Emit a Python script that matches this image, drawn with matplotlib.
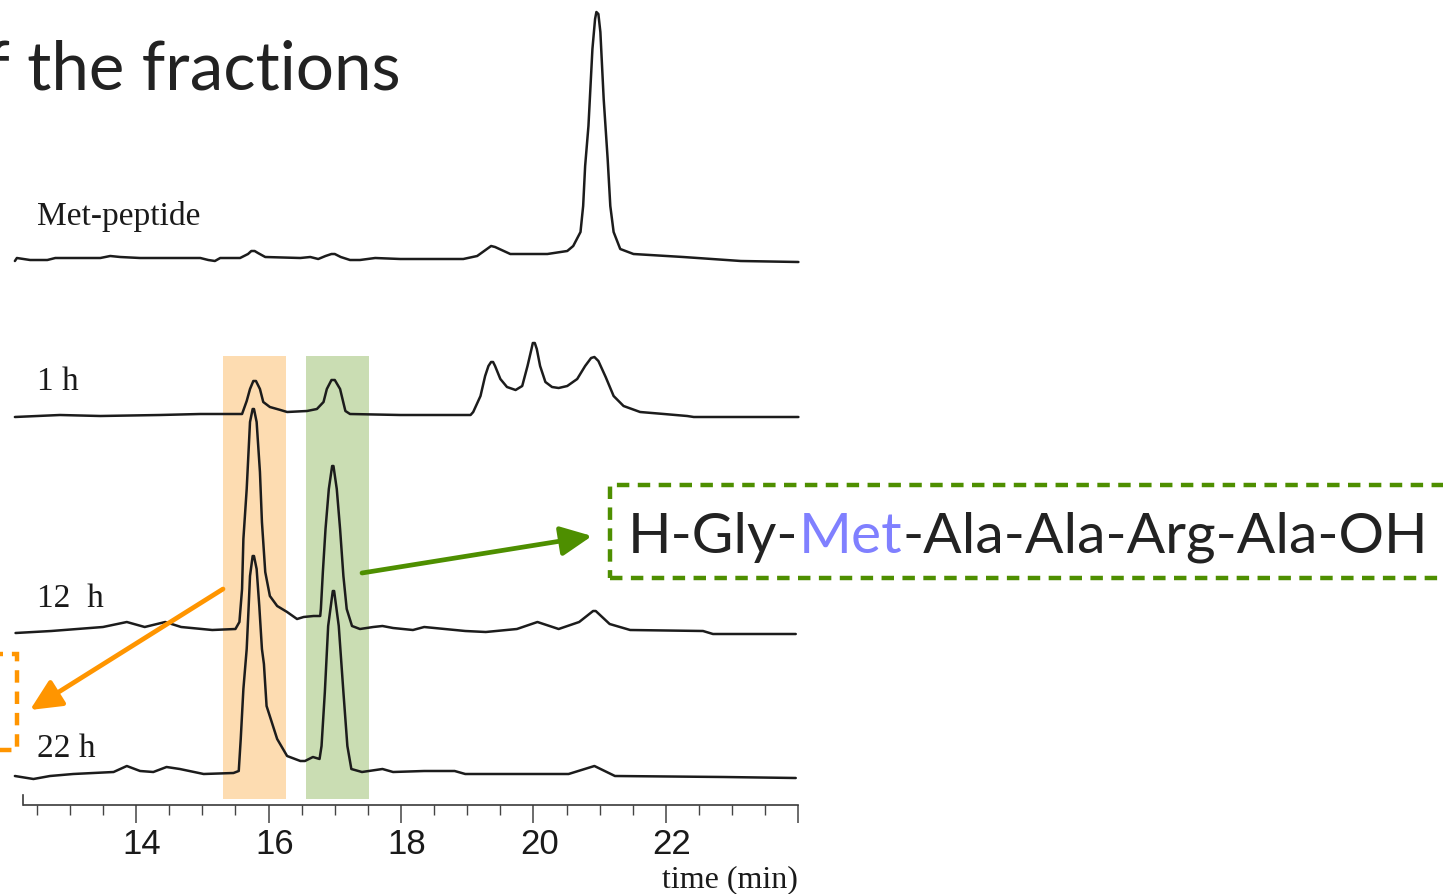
import matplotlib
matplotlib.use("Agg")
import matplotlib.pyplot as plt
import numpy as np
from matplotlib.patches import Rectangle, FancyArrowPatch
from matplotlib.transforms import ScaledTranslation

# ---------------- data ----------------
trace_labels = ["Met-peptide", "1 h", "12  h", "22 h"]
trace_offsets = [546, 390, 174, 30]          # vertical stacking of traces
label_dy = [35, 26, 25, 19]

met_t = [12.17, 12.20, 12.40, 12.66, 12.78, 13.46, 13.61, 13.76, 14.06, 14.97,
         15.09, 15.19, 15.27, 15.57, 15.69, 15.74, 15.79, 15.84, 15.95, 16.48, 16.63,
         16.75, 16.86, 16.95, 17.00, 17.09, 17.23, 17.38, 17.61, 17.99, 18.94, 19.15,
         19.36, 19.42, 19.65, 20.21, 20.51, 20.60, 20.71, 20.75, 20.78, 20.83, 20.89,
         20.93, 20.95, 20.98, 21.01, 21.06, 21.12, 21.16, 21.21, 21.31, 21.51, 22.26,
         23.13, 24.00]
met_y = [-2, 1, -1, -1, 1, 1, 3, 2, 1, 1,
         -1, -2, 1, 1, 5, 8, 8, 6, 2, 1, 2,
         0, 3, 5, 5, 2, -1, -1, 1, 0, 0, 3,
         13, 12, 5, 5, 8, 13, 27, 53, 93, 133, 210,
         240, 247, 245, 227, 160, 100, 53, 27, 10, 5, 2,
         -2, -3]

h1_t = [12.17, 12.85, 13.46, 14.36, 14.97, 15.60, 15.67, 15.72, 15.77, 15.81, 15.87,
        15.92, 16.02, 16.18, 16.28, 16.58, 16.73, 16.83, 16.88, 16.95, 17.00, 17.08,
        17.16, 17.23, 17.99, 19.05, 19.09, 19.20, 19.27, 19.32, 19.36, 19.39, 19.42,
        19.50, 19.60, 19.73, 19.83, 19.91, 19.97, 19.99, 20.02, 20.05, 20.10, 20.18,
        20.28, 20.38, 20.51, 20.66, 20.78, 20.87, 20.92, 20.98, 21.09, 21.21, 21.36,
        21.61, 21.97, 22.32, 22.42, 24.00]
h1_y = [-2, 0, -1, 0, 1, 1, 14, 26, 34, 34, 26,
        13, 8, 5, 3, 4, 6, 13, 26, 35, 35, 26,
        4, 1, 0, 0, 3, 19, 39, 49, 53, 53, 49,
        36, 28, 25, 29, 49, 66, 72, 72, 66, 49, 33,
        28, 27, 29, 36, 49, 57, 58, 54, 38, 19, 9,
        3, 1, -1, -2, -2]

h12_t = [12.18, 12.72, 13.50, 13.86, 14.13, 14.44, 14.68, 15.15, 15.50, 15.56,
         15.60, 15.62, 15.67, 15.72, 15.76, 15.78, 15.82, 15.87, 15.90, 15.95, 16.02,
         16.13, 16.28, 16.43, 16.53, 16.68, 16.78, 16.79, 16.82, 16.86, 16.91,
         16.96, 16.98, 17.03, 17.08, 17.13, 17.18, 17.26, 17.38, 17.58, 17.72, 17.88,
         18.18, 18.35, 18.97, 19.28, 19.75, 20.06, 20.38, 20.69, 20.90, 20.94, 21.15,
         21.46, 22.56, 22.71, 23.96]
h12_y = [-2, 0, 4, 9, 4, 9, 4, 1, 2, 9,
         42, 92, 142, 209, 222, 222, 209, 159, 109, 59, 35,
         25, 19, 12, 14, 15, 15, 22, 59, 102, 142,
         165, 165, 142, 102, 55, 22, 5, 2, 4, 5, 3,
         1, 4, 0, -1, 2, 9, 2, 9, 20, 20, 7,
         1, 0, -3, -3]

h22_t = [12.17, 12.45, 12.70, 13.05, 13.66, 13.86, 14.06, 14.26, 14.46, 14.66,
         15.02, 15.47, 15.55, 15.58, 15.62, 15.67, 15.70, 15.72, 15.76, 15.78, 15.82,
         15.86, 15.90, 15.93, 15.97, 16.13, 16.28, 16.48, 16.55, 16.67, 16.77,
         16.80, 16.85, 16.90, 16.97, 16.99, 17.06, 17.13, 17.19, 17.25, 17.41, 17.72,
         17.88, 18.35, 18.81, 18.97, 20.53, 20.92, 21.23, 22.87, 23.96]
h22_y = [-1, -4, -1, 1, 3, 9, 4, 3, 8, 6,
         1, 2, 4, 36, 86, 126, 169, 199, 219, 219, 206,
         169, 126, 111, 69, 36, 19, 14, 14, 18, 16,
         29, 83, 149, 184, 184, 149, 83, 29, 6, 3, 6,
         3, 4, 4, 1, 1, 9, -1, -2, -3]

trace_times = [met_t, h1_t, h12_t, h22_t]
trace_values = [met_y, h1_y, h12_y, h22_y]

orange_band = (15.31, 16.27)
green_band = (16.57, 17.51)
band_y = (6, 449)

major_ticks = [14, 16, 18, 20, 22, 24]
major_labels = ["14", "16", "18", "20", "22", ""]

title_text = "of the fractions"
peptide_parts = ["H-Gly-", "Met", "-Ala-Ala-Arg-Ala-OH"]
peptide_colors = ["#222222", "#8080FF", "#222222"]

# ---------------- figure ----------------
W, H = 1443, 895
fig = plt.figure(figsize=(W / 100, H / 100), dpi=100)
fig.patch.set_facecolor("white")


def fx(px):
    return px / W


def fy(py):
    return 1 - py / H


ax = fig.add_axes([fx(23.5), 89 / H, 774.9 / W, 806 / H])
ax.set_xlim(12.3, 24.0)
ax.set_ylim(0, 806)
ax.patch.set_alpha(0)
for s in ["top", "right"]:
    ax.spines[s].set_visible(False)
ax.spines["left"].set_bounds(0, 10)
for s in ["left", "bottom"]:
    ax.spines[s].set_color("#3a3a3a")
    ax.spines[s].set_linewidth(1.2)
ax.set_yticks([])
ax.set_xticks(major_ticks)
ax.set_xticklabels(major_labels)
ax.set_xticks(np.arange(12.5, 24.01, 0.5), minor=True)
ax.tick_params(axis="x", which="major", direction="out", length=13, width=1.1,
               color="#444444", pad=3, labelsize=25, labelcolor="#1a1a1a")
ax.tick_params(axis="x", which="minor", direction="out", length=7, width=1.0,
               color="#444444")
for lab in ax.get_xticklabels():
    lab.set_family(["Liberation Sans Narrow", "Liberation Sans", "DejaVu Sans"])
    lab.set_transform(lab.get_transform() + ScaledTranslation(0.06, 0, fig.dpi_scale_trans))

# highlight bands
ax.axvspan(*orange_band, ymin=band_y[0] / 806, ymax=band_y[1] / 806,
           color="#FDDCB1", lw=0, zorder=1)
ax.axvspan(*green_band, ymin=band_y[0] / 806, ymax=band_y[1] / 806,
           color="#CADDB3", lw=0, zorder=1)

# traces
for t, v, off, lab, dy in zip(trace_times, trace_values, trace_offsets,
                              trace_labels, label_dy):
    ax.plot(t, np.asarray(v) + off, color="#1c1c1c", lw=1.8, clip_on=False,
            solid_joinstyle="round", solid_capstyle="round", zorder=3)
    ax.text(12.5, off + dy, lab, family="Liberation Serif", fontsize=24,
            va="baseline", ha="left", color="#1a1a1a")

fig.text(fx(798), fy(887), "time (min)", family="Liberation Serif", fontsize=23,
         ha="right", va="baseline", color="#1a1a1a")

fig.canvas.draw()
r = fig.canvas.get_renderer()

# title: right-aligned, leftmost letters run off the slide edge as in the reference
fig.text(fx(401), fy(89), title_text, family="Lato", fontsize=48.5,
         ha="right", va="baseline", color="#222222")

# peptide label (multi-coloured), fitted to the reference width
target_w = 800
fs = 43
probe = fig.text(0, 0, "".join(peptide_parts), family="Lato", fontsize=fs)
w = probe.get_window_extent(r).width
probe.remove()
fs = fs * target_w / w
x = 628
for part, col in zip(peptide_parts, peptide_colors):
    t = fig.text(fx(x), fy(553), part, family="Lato", fontsize=fs,
                 ha="left", va="baseline", color=col)
    bb = t.get_window_extent(r)
    x = bb.x1

green = "#4E8F00"
orange = "#FF9500"
fig.add_artist(Rectangle((fx(610), fy(579)), (1480 - 610) / W, (579 - 486) / H,
                         transform=fig.transFigure, fill=False, ec=green,
                         lw=3.2, ls=(0, (2.8, 1.9)), zorder=5))
fig.add_artist(Rectangle((fx(-120), fy(751)), (17 + 120) / W, (751 - 655) / H,
                         transform=fig.transFigure, fill=False, ec=orange,
                         lw=3.2, ls=(0, (2.8, 2.0)), zorder=5))

fig.add_artist(FancyArrowPatch((fx(223), fy(590)), (fx(30), fy(711)),
                               transform=fig.transFigure,
                               arrowstyle="-|>,head_length=19,head_width=9",
                               mutation_scale=1, color=orange, lw=3.4,
                               shrinkA=0, shrinkB=0, zorder=6))
fig.add_artist(FancyArrowPatch((fx(362), fy(574)), (fx(592), fy(537)),
                               transform=fig.transFigure,
                               arrowstyle="-|>,head_length=19,head_width=9",
                               mutation_scale=1, color=green, lw=3.4,
                               shrinkA=0, shrinkB=0, zorder=6))

fig.savefig("out.png", dpi=100, facecolor="white")
